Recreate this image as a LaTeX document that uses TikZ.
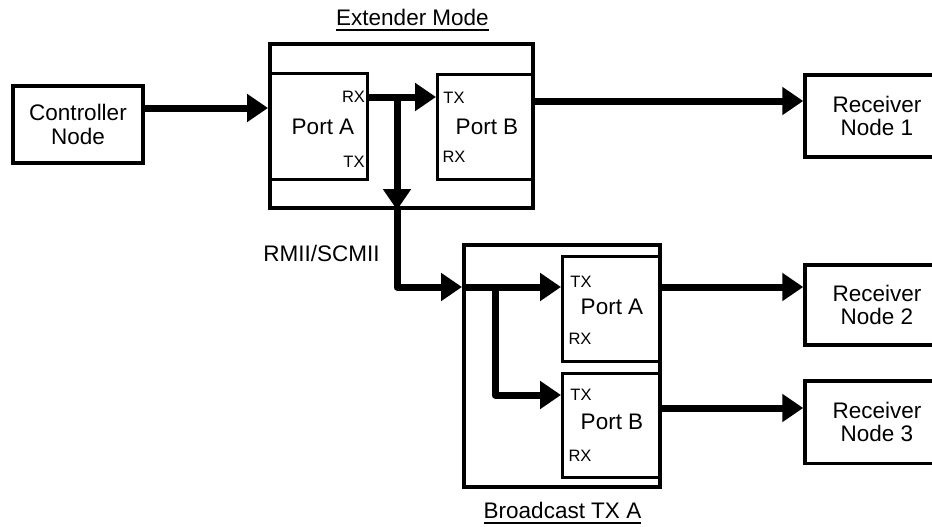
\documentclass[tikz,border=0pt]{standalone}
\usepackage{fontspec}
\setmainfont{Liberation Sans}
\usetikzlibrary{arrows, arrows.meta}

\begin{document}
\begin{tikzpicture}[x=1pt,y=-1pt,
  font=\fontsize{22.5}{23.5}\selectfont,
  blk/.style={draw, line width=3.5pt, inner sep=0pt},
  port/.style={draw, line width=3pt, inner sep=0pt},
  pin/.style={font=\fontsize{16.5}{18}\selectfont, inner sep=0pt},
  bus/.style={line width=7pt, line join=round, -{Triangle[length=21pt,width=27pt]}},
  title/.style={inner xsep=0pt, inner ysep=4pt}]
\useasboundingbox (0,0) rectangle (932,527);
%\draw[step=50,gray,very thin] (0,0) grid (932,527);

% outer blocks
\node[blk, line width=4pt, minimum width=263pt, minimum height=164pt] (ext) at (401.5,126) {};
\node[blk, line width=4pt, minimum width=195.5pt, minimum height=241.5pt] (bc) at (561.75,365.75) {};
\node[title] (extlbl) at (412.5,17.5) {Extender Mode};
\node[title] (bclbl) at (562.5,510.5) {Broadcast TX A};
\draw[line width=1.5pt] (extlbl.south west) -- (extlbl.south east);
\draw[line width=1.5pt] (bclbl.south west) -- (bclbl.south east);

% ports
\node[port, minimum width=97.5pt, minimum height=105pt] (extA) at (318.75,126.5) {};
\node[port, minimum width=95.5pt, minimum height=104pt] (extB) at (485.25,127) {};
\node[port, minimum width=97pt, minimum height=105pt] (bcA) at (611,308.5) {};
\node[port, minimum width=97pt, minimum height=104pt] (bcB) at (611,425.5) {};
\node[] (extAname) at (323,127) {Port A};
\node[pin] (extArx) at (353.5,97) {RX};
\node[pin] (extAtx) at (354,162) {TX};
\node[] (extBname) at (487,127) {Port B};
\node[pin] (extBtx) at (454,98) {TX};
\node[pin] (extBrx) at (454,157) {RX};
\node[] (bcAname) at (612,307) {Port A};
\node[pin] (bcAtx) at (581,282) {TX};
\node[pin] (bcArx) at (580,339) {RX};
\node[] (bcBname) at (612,422) {Port B};
\node[pin] (bcBtx) at (581,395) {TX};
\node[pin] (bcBrx) at (580,456) {RX};

% end nodes
\node[blk, minimum width=130pt, minimum height=77pt, align=center] (ctrl) at (78,124.5) {Controller\\Node};
\node[blk, minimum width=144pt, minimum height=82pt, align=center] (rx1) at (877,116) {Receiver\\Node 1};
\node[blk, minimum width=144pt, minimum height=80pt, align=center] (rx2) at (877,305) {Receiver\\Node 2};
\node[blk, minimum width=144pt, minimum height=82.5pt, align=center] (rx3) at (877,422) {Receiver\\Node 3};
\node[] (rmii) at (321.5,253) {RMII/SCMII};

% buses
\coordinate (in0) at (145,108);
\coordinate (tap) at (397,97);
\coordinate (bcin) at (462,287);
\coordinate (fork) at (495,287);
\coordinate (out1) at (533,101);
\coordinate (out2) at (659,287);
\coordinate (out3) at (659,408);
\draw[bus] (ctrl.east |- in0) -- (ext.west |- in0);
\draw[bus] (extA.east |- extArx) -- (extB.west |- extArx);
\draw[bus] (tap) -- (tap |- ext.south);
\draw[bus] (tap |- ext.south) -- (tap |- bcin) -- (bc.west |- bcin);
\draw[bus] (bcin) -- (bcA.west |- bcin);
\draw[bus] (fork) -- (fork |- bcBtx) -- (bcB.west |- bcBtx);
\draw[bus] (out1) -- (rx1.west |- out1);
\draw[bus] (out2) -- (rx2.west |- out2);
\draw[bus] (out3) -- (rx3.west |- out3);
\end{tikzpicture}
\end{document}
